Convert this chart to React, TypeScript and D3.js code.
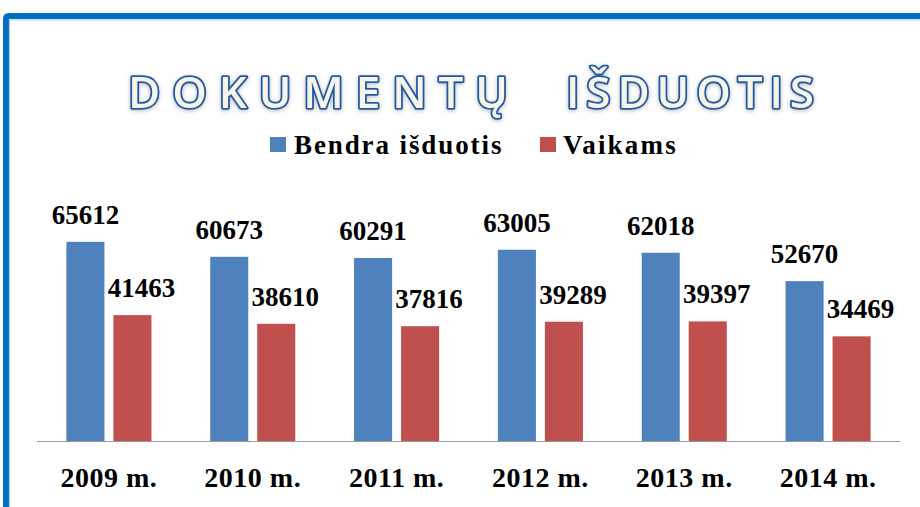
import React from "react";
import * as d3 from "d3";

const years = ["2009 m.", "2010 m.", "2011 m.", "2012 m.", "2013 m.", "2014 m."];
const seriesNames = ["Bendra išduotis", "Vaikams"];
const bendra = [65612, 60673, 60291, 63005, 62018, 52670];
const vaikams = [41463, 38610, 37816, 39289, 39397, 34469];
const colors = ["#4F81BD", "#C0504D"];
const titleWords = ["DOKUMENTŲ", "IŠDUOTIS"];

const W = 920;
const H = 507;
const serif = "'Liberation Serif', 'Times New Roman', serif";

export default function App() {
  const x0 = d3.scaleBand<string>().domain(years).range([37, 900]);
  const x1 = d3
    .scaleBand<string>()
    .domain(seriesNames)
    .range([0, x0.bandwidth()])
    .paddingInner(0.191)
    .paddingOuter(0.625);
  const y = d3.scaleLinear().domain([0, 70000]).range([441, 228.5]);
  const data = [bendra, vaikams];
  const labelDx = [0, 9];

  return (
    <svg
      width={W}
      height={H}
      style={{ position: "absolute", left: 0, top: 0, display: "block", background: "#fff" }}
    >
      <defs>
        <filter id="glow" x="-10%" y="-30%" width="120%" height="160%">
          <feGaussianBlur in="SourceAlpha" stdDeviation="2" result="b" />
          <feOffset in="b" dx="0" dy="1" result="o" />
          <feFlood floodColor="#8a8a8a" floodOpacity="0.6" />
          <feComposite in2="o" operator="in" result="s" />
          <feMerge>
            <feMergeNode in="s" />
            <feMergeNode in="SourceGraphic" />
          </feMerge>
        </filter>
      </defs>

      {/* frame */}
      <path d="M 6 510 L 6 19 Q 6 16 9 16 L 925 16" fill="none" stroke="#0070C0" strokeWidth={6} />
      <path d="M 9.5 510 L 9.5 20 L 925 20" fill="none" stroke="#A9CDEB" strokeWidth={1.2} />

      {/* title */}
      <g
        filter="url(#glow)"
        fontFamily="'Open Sans', 'DejaVu Sans', sans-serif"
        fontSize={44}
        fontWeight={600}
        fill="#F7F4E8"
        stroke="#1F5AA6"
        strokeWidth={3.6}
        style={{ paintOrder: "stroke" } as any}
        strokeLinejoin="round"
      >
        <text x={128} y={108} textLength={380} lengthAdjust="spacing">
          {titleWords[0]}
        </text>
        <text x={566} y={108} textLength={248} lengthAdjust="spacing">
          {titleWords[1]}
        </text>
      </g>

      {/* legend */}
      <g fontFamily={serif} fontWeight="bold" fontSize={27}>
        <rect x={270} y={137} width={16} height={15} fill={colors[0]} />
        <text x={294} y={154} letterSpacing={1.9} fill="#000">
          {seriesNames[0]}
        </text>
        <rect x={540} y={137} width={16} height={15} fill={colors[1]} />
        <text x={563} y={154} letterSpacing={2.2} fill="#000">
          {seriesNames[1]}
        </text>
      </g>

      {/* bars */}
      {years.map((yr, i) => (
        <g key={yr} transform={`translate(${x0(yr)},0)`}>
          {seriesNames.map((s, j) => {
            const v = data[j][i];
            const bx = x1(s)!;
            return (
              <g key={s}>
                <rect
                  x={bx}
                  y={y(v)}
                  width={x1.bandwidth()}
                  height={y(0) - y(v)}
                  fill={colors[j]}
                />
                <text
                  x={bx + x1.bandwidth() / 2 + labelDx[j]}
                  y={y(v) - 18}
                  textAnchor="middle"
                  fontFamily={serif}
                  fontWeight="bold"
                  fontSize={27}
                  fill="#000"
                >
                  {v}
                </text>
              </g>
            );
          })}
        </g>
      ))}

      {/* baseline */}
      <line x1={37} x2={900} y1={y(0) + 0.5} y2={y(0) + 0.5} stroke="#9A9A9A" strokeWidth={1.2} />

      {/* category labels */}
      {years.map((yr) => (
        <text
          key={yr}
          x={x0(yr)! + x0.bandwidth() / 2}
          y={487}
          textAnchor="middle"
          fontFamily={serif}
          fontWeight="bold"
          fontSize={28}
          letterSpacing={0.5}
          fill="#000"
        >
          {yr}
        </text>
      ))}
    </svg>
  );
}
